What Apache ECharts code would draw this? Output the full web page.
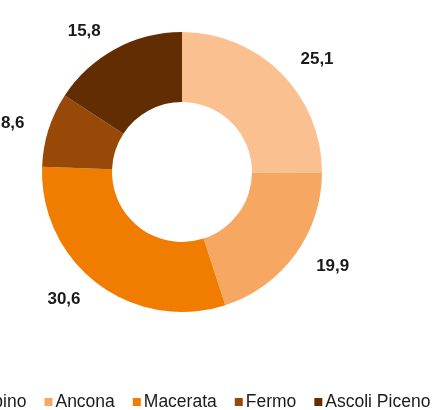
<!DOCTYPE html>
<html>
<head>
<meta charset="utf-8">
<script src="https://cdn.jsdelivr.net/npm/echarts@6/dist/echarts.min.js"></script>
<style>
html, body { margin: 0; padding: 0; background: #fff; }
#chart { width: 440px; height: 410px; }
</style>
</head>
<body>
<div id="chart"></div>
<script>
// province e quote (%)
var provinces = ['Pesaro e Urbino', 'Ancona', 'Macerata', 'Fermo', 'Ascoli Piceno'];
var shares = [25.1, 19.9, 30.6, 8.6, 15.8];
var colors = ['#FAC090', '#F6A862', '#F07C00', '#984807', '#632D04'];

var chart = echarts.init(document.getElementById('chart'));

var option = {
    animation: false,
    color: colors,
    legend: {
        bottom: -6,
        left: -116, // prima voce tagliata come nell'originale
        width: 800,
        orient: 'horizontal',
        itemWidth: 8,
        itemHeight: 8,
        itemGap: 18,
        icon: 'rect',
        textStyle: {
            fontFamily: 'Liberation Sans, Arial, sans-serif',
            fontSize: 17.5,
            color: '#1a1a1a',
            padding: [0, 0, 0, -2]
        },
        data: provinces
    },
    series: [{
        type: 'pie',
        center: [182, 172],
        radius: [70, 140],
        startAngle: 90,
        clockwise: true,
        avoidLabelOverlap: false,
        itemStyle: { borderWidth: 0 },
        label: {
            show: true,
            position: 'outside',
            alignTo: 'none',
            fontFamily: 'Liberation Sans, Arial, sans-serif',
            fontWeight: 'bold',
            fontSize: 17,
            color: '#1a1a1a',
            formatter: function (p) {
                return p.value.toFixed(1).replace('.', ','); //virgola decimale
            }
        },
        labelLine: { show: false, length: 20, length2: 0 },
        emphasis: { disabled: true },
        data: provinces.map(function (name, i) {
            return { name: name, value: shares[i] };
        })
    }]
};

chart.setOption(option);
</script>
</body>
</html>
